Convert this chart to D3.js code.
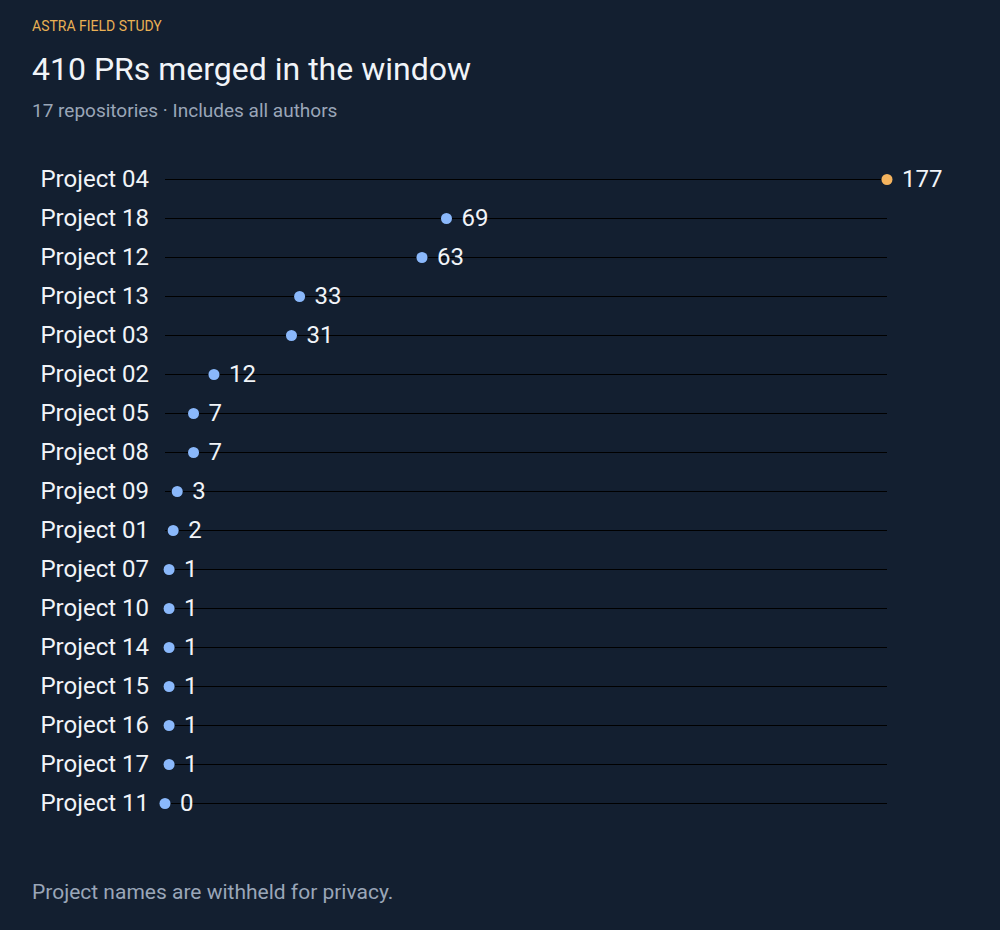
<!DOCTYPE html>
<html>
<head>
<meta charset="utf-8">
<script src="https://cdn.jsdelivr.net/npm/d3@7"></script>
<style>
html,body{margin:0;padding:0;background:#131f30;}
svg{display:block;font-family:Roboto,"Noto Sans",sans-serif;}
</style>
</head>
<body>
<svg id="chart" width="1000" height="930"></svg>
<script>
const projects = ["Project 04","Project 18","Project 12","Project 13","Project 03","Project 02","Project 05","Project 08","Project 09","Project 01","Project 07","Project 10","Project 14","Project 15","Project 16","Project 17","Project 11"];
const merged = [177,69,63,33,31,12,7,7,3,2,1,1,1,1,1,1,0];
const kicker = "ASTRA FIELD STUDY";
const title = "410 PRs merged in the window";
const subtitle = "17 repositories · Includes all authors";
const footnote = "Project names are withheld for privacy.";

const svg = d3.select("#chart");
svg.append("rect").attr("width",1000).attr("height",930).attr("fill","#131f30");

svg.append("text").attr("x",32).attr("y",31).attr("fill","#e9b054").attr("font-size",14).text(kicker);
svg.append("text").attr("x",32).attr("y",80).attr("fill","#f1f4f8").attr("font-size",32).text(title);
svg.append("text").attr("x",32).attr("y",117).attr("fill","#9aa6b8").attr("font-size",19).text(subtitle);
svg.append("text").attr("x",32).attr("y",899).attr("fill","#9aa6b8").attr("font-size",21).text(footnote);

const x = d3.scaleLinear().domain([0,d3.max(merged)]).range([165,887]);
const y = d3.scalePoint().domain(projects).range([179.5,803.5]);
const data = projects.map((p,i)=>({p, v:merged[i]}));
const maxV = d3.max(merged);

const g = svg.append("g");
g.selectAll("line.row").data(data).join("line")
  .attr("class","row")
  .attr("x1",x(0)).attr("x2",x(maxV))
  .attr("y1",d=>y(d.p)).attr("y2",d=>y(d.p))
  .attr("stroke","#000").attr("stroke-width",1);

g.selectAll("text.lab").data(data).join("text")
  .attr("class","lab")
  .attr("x",149).attr("y",d=>y(d.p)).attr("dy","0.33em")
  .attr("text-anchor","end").attr("fill","#f1f4f8").attr("font-size",24)
  .text(d=>d.p);

g.selectAll("circle").data(data).join("circle")
  .attr("cx",d=>x(d.v)).attr("cy",d=>y(d.p)).attr("r",5.5)
  .attr("fill",d=>d.v===maxV?"#f4b35e":"#8ab8fb");

g.selectAll("text.val").data(data).join("text")
  .attr("class","val")
  .attr("x",d=>x(d.v)+15).attr("y",d=>y(d.p)).attr("dy","0.33em")
  .attr("fill","#f1f4f8").attr("font-size",24)
  .text(d=>d.v);
</script>
</body>
</html>
